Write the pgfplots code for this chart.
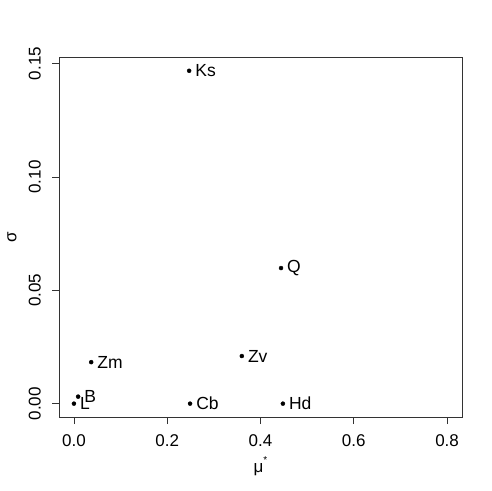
\documentclass[border=0pt]{standalone}
\usepackage{fontspec}
\setmainfont{Liberation Sans}
\usepackage{pgfplots}
\pgfplotsset{compat=1.18}
\begin{document}
\fontsize{17bp}{20bp}\selectfont
\begin{tikzpicture}
\useasboundingbox (-59bp,-74bp) rectangle (433bp,417bp);
\begin{axis}[
  at={(0,0)}, anchor=south west,
  scale only axis, width=403bp, height=360bp,
  xmin=-0.032, xmax=0.832, ymin=-0.00589, ymax=0.15289,
  xtick={0,0.2,0.4,0.6,0.8}, ytick={0,0.05,0.1,0.15},
  tick pos=left, tick align=outside, major tick length=7bp,
  axis line style={black!80, line width=0.8bp},
  tick style={black!80, line width=0.8bp},
  /pgf/number format/assume math mode=true,
  xticklabel={\pgfmathprintnumber[fixed,fixed zerofill,precision=1]{\tick}},
  yticklabel={\pgfmathprintnumber[fixed,fixed zerofill,precision=2]{\tick}},
  xticklabel style={anchor=north, inner sep=0pt, font=\fontsize{17bp}{20bp}\selectfont},
  yticklabel style={rotate=90, anchor=south, inner sep=0pt, font=\fontsize{17bp}{20bp}\selectfont},
  xticklabel shift=10bp, yticklabel shift=11bp,
  scaled ticks=false,
  xlabel={μ\raisebox{0.55em}{\fontsize{10bp}{10bp}\selectfont *}},
  ylabel={σ},
  every axis x label/.style={at={(axis description cs:0.5,0)}, anchor=center, yshift=-49bp, font=\fontsize{17bp}{20bp}\selectfont},
  every axis y label/.style={at={(axis description cs:0,0.5)}, rotate=90, anchor=center, yshift=47bp, font=\fontsize{17bp}{20bp}\selectfont},
  nodes near coords, point meta=explicit symbolic,
  every node near coord/.append style={anchor=west, inner sep=0pt, xshift=6bp, font=\fontsize{17.5bp}{20bp}\selectfont, black},
  clip=false,
]
\addplot[only marks, mark=*, mark size=2bp, black] table[meta=lab] {
x y lab
0.247 0.1468 Ks
0.444 0.0598 Q
0.360 0.0210 Zv
0.037 0.0183 Zm
0.009 0.0031 B
0.000 0.0000 L
0.249 0.0000 Cb
0.448 0.0000 Hd
};
\end{axis}
\end{tikzpicture}
\end{document}
